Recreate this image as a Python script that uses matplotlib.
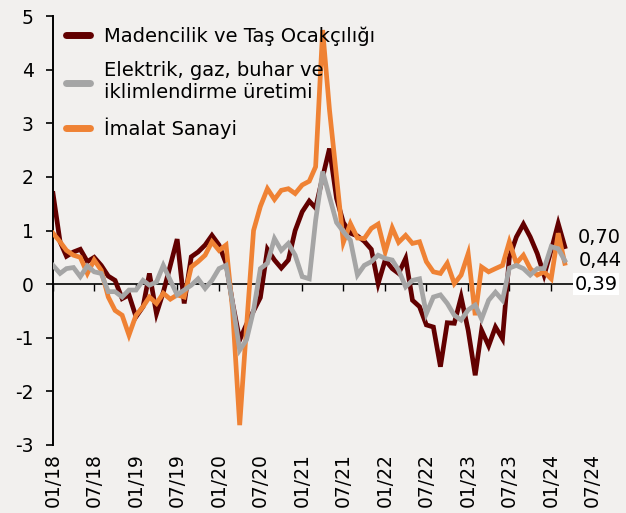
import matplotlib
matplotlib.use("Agg")
import matplotlib.pyplot as plt
import matplotlib.dates as mdates
import pandas as pd

plt.rcParams["font.family"] = ["DejaVu Sans"]
plt.rcParams["axes.unicode_minus"] = False

# monthly series, 01/2018 - 03/2024
months = pd.date_range("2018-01-01", periods=75, freq="MS")

madencilik = [
    1.69, 0.79, 0.52, 0.60, 0.65, 0.42, 0.50, 0.35, 0.15, 0.07, -0.27, -0.20,
    -0.61, -0.42, 0.20, -0.55, -0.15, 0.35, 0.84, -0.36, 0.51, 0.60, 0.73, 0.91,
    0.73, 0.39, -0.36, -1.04, -0.75, -0.50, -0.25, 0.65, 0.45, 0.30, 0.45, 1.00,
    1.35, 1.55, 1.42, 2.00, 2.53, 1.60, 1.15, 0.95, 0.90, 0.80, 0.65, 0.01,
    0.45, 0.29, 0.20, 0.48, -0.30, -0.42, -0.76, -0.80, -1.54, -0.72, -0.73, -0.24,
    -0.86, -1.70, -0.86, -1.15, -0.80, -1.02, 0.50, 0.88, 1.12, 0.88, 0.57, 0.17,
    0.63, 1.13, 0.70,
]
elektrik = [
    0.35, 0.20, 0.29, 0.31, 0.14, 0.34, 0.23, 0.20, -0.14, -0.14, -0.24, -0.11,
    -0.11, 0.07, -0.02, 0.04, 0.35, 0.07, -0.20, -0.11, -0.02, 0.10, -0.08, 0.07,
    0.29, 0.35, -0.36, -1.23, -1.04, -0.49, 0.29, 0.39, 0.85, 0.63, 0.76, 0.54,
    0.14, 0.10, 1.19, 2.10, 1.63, 1.15, 0.98, 0.82, 0.17, 0.35, 0.42, 0.54,
    0.48, 0.45, 0.26, -0.05, 0.07, 0.10, -0.55, -0.24, -0.20, -0.36, -0.58, -0.67,
    -0.48, -0.39, -0.65, -0.30, -0.15, -0.30, 0.30, 0.35, 0.29, 0.17, 0.29, 0.29,
    0.70, 0.66, 0.44,
]
imalat = [
    0.95, 0.79, 0.63, 0.54, 0.50, 0.20, 0.45, 0.26, -0.24, -0.49, -0.58, -0.95,
    -0.58, -0.42, -0.24, -0.36, -0.17, -0.28, -0.20, -0.24, 0.32, 0.42, 0.54, 0.79,
    0.63, 0.73, -0.49, -2.63, -0.80, 1.00, 1.45, 1.78, 1.58, 1.75, 1.78, 1.69,
    1.85, 1.92, 2.19, 4.74, 3.25, 2.00, 0.78, 1.13, 0.86, 0.85, 1.04, 1.12,
    0.60, 1.05, 0.78, 0.91, 0.76, 0.79, 0.42, 0.23, 0.20, 0.39, 0.01, 0.17,
    0.57, -0.58, 0.32, 0.23, 0.29, 0.35, 0.79, 0.39, 0.54, 0.29, 0.17, 0.23,
    0.10, 0.95, 0.39,
]

labels = ["Madencilik ve Taş Ocakçılığı", "Elektrik, gaz, buhar ve\niklimlendirme üretimi", "İmalat Sanayi"]
colors = ["#620000", "#a5a5a5", "#ef8234"]
end_labels = ["0,70", "0,44", "0,39"]

bg = "#f2f0ee"
fig = plt.figure(figsize=(6.26, 5.13), dpi=100, facecolor=bg)
ax = fig.add_axes([0.0847, 0.1326, 0.880, 0.836], facecolor=bg)

ymin, ymax = -3, 5
lines = []
for series, label, color, z in zip([madencilik, elektrik, imalat], labels, colors, [2, 4, 3]):
    (ln,) = ax.plot(months, series, color=color, lw=3.4, label=label, zorder=z,
                    solid_joinstyle="miter")
    lines.append(ln)

ax.set_ylim(ymin, ymax)
ax.set_xlim(pd.Timestamp("2018-01-01"), pd.Timestamp("2024-08-20"))
ax.set_yticks(range(ymin, ymax + 1))

loc = mdates.MonthLocator(bymonth=[1, 7])
ax.xaxis.set_major_locator(loc)
ax.xaxis.set_major_formatter(mdates.DateFormatter("%m/%y"))
ax.tick_params(axis="x", length=0, pad=6, labelsize=13.5, labelrotation=90)
ax.tick_params(axis="y", direction="out", length=5, width=1.2, pad=9, labelsize=13.5)

for s in ["top", "right", "bottom"]:
    ax.spines[s].set_visible(False)
ax.spines["left"].set_linewidth(1.4)

# zero line with its own ticks
sec = ax.secondary_xaxis((0 - ymin) / (ymax - ymin))
sec.xaxis.set_major_locator(mdates.MonthLocator(bymonth=[1, 7]))
sec.tick_params(axis="x", direction="out", length=5, width=1, labelbottom=False)
sec.spines["bottom"].set_linewidth(1.2)

# end value labels
offsets = [(9, 6.5), (10, 0), (7, -15)]
for series, txt, off in zip([madencilik, elektrik, imalat], end_labels, offsets):
    kw = {}
    if txt == "0,39":
        kw["bbox"] = dict(facecolor="white", edgecolor="none", pad=1)
    ax.annotate(txt, xy=(months[-1], series[-1]), xytext=off, textcoords="offset points",
                fontsize=14, va="center", ha="left", annotation_clip=False, zorder=6, **kw)

leg = ax.legend(handles=lines, loc="upper left", bbox_to_anchor=(0.005, 1.0), frameon=False,
                fontsize=14, handlelength=1.2, handletextpad=0.75, labelspacing=0.78,
                borderaxespad=0.15)
for h in leg.get_lines():
    h.set_linewidth(5)
    h.set_solid_capstyle("round")

fig.savefig("out.png", dpi=100, facecolor=bg)
